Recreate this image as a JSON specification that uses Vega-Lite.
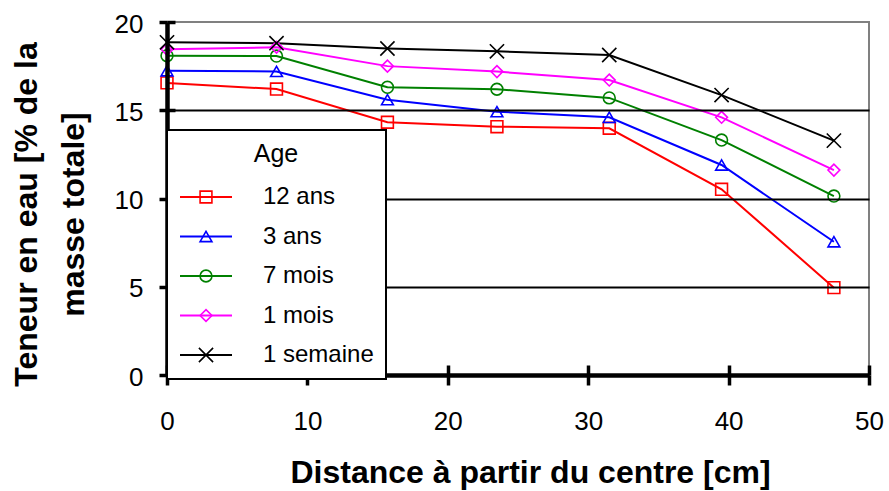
{
  "$schema": "https://vega.github.io/schema/vega-lite/v6.json",
  "width": 702,
  "height": 353,
  "autosize": {"type": "none"},
  "padding": {"left": 167, "top": 22, "right": 20, "bottom": 116},
  "background": "white",
  "config": {
    "view": {"stroke": "#808080", "strokeWidth": 2},
    "font": "Liberation Sans",
    "axis": {"labelFont": "Liberation Sans", "titleFont": "Liberation Sans", "labelColor": "black", "titleColor": "black", "domainColor": "black", "tickColor": "black"},
    "legend": {"labelFont": "Liberation Sans", "titleFont": "Liberation Sans", "strokeWidth": 2, "labelColor": "black", "titleColor": "black"}
  },
  "data": {"values": [
    {"age": "12 ans", "distance": 0, "teneur": 16.55},
    {"age": "12 ans", "distance": 7.8, "teneur": 16.2},
    {"age": "12 ans", "distance": 15.7, "teneur": 14.32},
    {"age": "12 ans", "distance": 23.5, "teneur": 14.07},
    {"age": "12 ans", "distance": 31.5, "teneur": 13.98},
    {"age": "12 ans", "distance": 39.5, "teneur": 10.52},
    {"age": "12 ans", "distance": 47.5, "teneur": 4.95},
    {"age": "3 ans", "distance": 0, "teneur": 17.24},
    {"age": "3 ans", "distance": 7.8, "teneur": 17.2},
    {"age": "3 ans", "distance": 15.7, "teneur": 15.6},
    {"age": "3 ans", "distance": 23.5, "teneur": 14.92},
    {"age": "3 ans", "distance": 31.5, "teneur": 14.6},
    {"age": "3 ans", "distance": 39.5, "teneur": 11.9},
    {"age": "3 ans", "distance": 47.5, "teneur": 7.55},
    {"age": "7 mois", "distance": 0, "teneur": 18.09},
    {"age": "7 mois", "distance": 7.8, "teneur": 18.07},
    {"age": "7 mois", "distance": 15.7, "teneur": 16.3},
    {"age": "7 mois", "distance": 23.5, "teneur": 16.19},
    {"age": "7 mois", "distance": 31.5, "teneur": 15.7},
    {"age": "7 mois", "distance": 39.5, "teneur": 13.31},
    {"age": "7 mois", "distance": 47.5, "teneur": 10.14},
    {"age": "1 mois", "distance": 0, "teneur": 18.45},
    {"age": "1 mois", "distance": 7.8, "teneur": 18.57},
    {"age": "1 mois", "distance": 15.7, "teneur": 17.5},
    {"age": "1 mois", "distance": 23.5, "teneur": 17.19},
    {"age": "1 mois", "distance": 31.5, "teneur": 16.71},
    {"age": "1 mois", "distance": 39.5, "teneur": 14.6},
    {"age": "1 mois", "distance": 47.5, "teneur": 11.61},
    {"age": "1 semaine", "distance": 0, "teneur": 18.85},
    {"age": "1 semaine", "distance": 7.8, "teneur": 18.8},
    {"age": "1 semaine", "distance": 15.7, "teneur": 18.5},
    {"age": "1 semaine", "distance": 23.5, "teneur": 18.34},
    {"age": "1 semaine", "distance": 31.5, "teneur": 18.13},
    {"age": "1 semaine", "distance": 39.5, "teneur": 15.86},
    {"age": "1 semaine", "distance": 47.5, "teneur": 13.28}
  ]},
  "resolve": {
    "axis": {"x": "independent", "y": "independent"},
    "legend": {"color": "independent", "shape": "independent"}
  },
  "layer": [
    {
      "mark": {"type": "line", "strokeWidth": 2},
      "encoding": {
        "x": {
          "field": "distance", "type": "quantitative",
          "scale": {"domain": [0, 50], "nice": false},
          "axis": {
            "orient": "bottom",
            "values": [0, 10, 20, 30, 40, 50],
            "title": "Distance à partir du centre [cm]",
            "titleFontSize": 32, "titleFontWeight": "bold",
            "titleX": 363, "titleY": 107, "titleAlign": "center", "titleBaseline": "alphabetic",
            "labelFontSize": 26, "labelPadding": 23, "labelFlush": false,
            "tickSize": 10, "tickWidth": 3.5, "domainWidth": 4.5,
            "grid": false, "zindex": 1
          }
        },
        "y": {
          "field": "teneur", "type": "quantitative",
          "scale": {"domain": [0, 20], "nice": false},
          "axis": {
            "orient": "left",
            "values": [0, 5, 10, 15, 20],
            "title": ["Teneur en eau [% de la", "masse totale]"],
            "titleFontSize": 32, "titleFontWeight": "bold",
            "titleAngle": 270, "titleX": -156, "titleY": 192,
            "titleAlign": "center", "titleBaseline": "top", "titleLineHeight": 47,
            "labelFontSize": 26, "labelPadding": 16, "labelFlush": false, "labelOffset": 2,
            "tickSize": 8, "tickWidth": 3.5, "domainWidth": 4.5,
            "grid": true, "gridWidth": 2,
            "gridColor": {"condition": {"test": "datum.value >= 20 || datum.value <= 0", "value": "transparent"}, "value": "black"},
            "zindex": 1
          }
        },
        "color": {
          "field": "age", "type": "nominal",
          "scale": {"domain": ["12 ans", "3 ans", "7 mois", "1 mois", "1 semaine"], "range": ["#FF0000", "#0000FF", "#008000", "#FF00FF", "#000000"]},
          "legend": {
            "orient": "none", "legendX": 0, "legendY": 108,
            "title": "Age", "titleFontSize": 25, "titleFontWeight": "normal", "titleAnchor": "middle", "titlePadding": 18,
            "labelFontSize": 24, "labelOffset": 30,
            "symbolType": "stroke", "symbolSize": 2704, "symbolStrokeWidth": 2,
            "clipHeight": 24,
            "rowPadding": 15.5, "padding": 12,
            "fillColor": "white", "strokeColor": "black", "zindex": 1
          }
        }
      }
    },
    {
      "mark": {"type": "point", "filled": false, "size": 140, "strokeWidth": 1.6, "opacity": 1},
      "encoding": {
        "x": {
          "field": "distance", "type": "quantitative",
          "axis": {"orient": "bottom", "values": [0, 10, 20, 30, 40, 50], "title": null, "labels": false, "domain": false, "grid": false, "tickSize": -10, "tickWidth": 3.5, "zindex": 1}
        },
        "y": {
          "field": "teneur", "type": "quantitative",
          "axis": {"orient": "left", "values": [0, 5, 10, 15, 20], "title": null, "labels": false, "domain": false, "grid": false, "tickSize": -8, "tickWidth": 3.5, "zindex": 1}
        },
        "color": {
          "field": "age", "type": "nominal",
          "legend": {
            "orient": "none", "legendX": 0, "legendY": 108,
            "title": "Age", "titleFontSize": 25, "titleFontWeight": "normal", "titleAnchor": "middle", "titlePadding": 18, "titleColor": "transparent",
            "labelFontSize": 24, "labelOffset": 70, "labelColor": "transparent",
            "symbolSize": 140, "symbolStrokeWidth": 1.6, "symbolOffset": 15,
            "clipHeight": 24,
            "rowPadding": 15.5, "padding": 12, "zindex": 2
          }
        },
        "shape": {
          "field": "age", "type": "nominal",
          "scale": {"domain": ["12 ans", "3 ans", "7 mois", "1 mois", "1 semaine"], "range": ["square", "triangle-up", "circle", "diamond", "M-1.2,-1.2L1.2,1.2M-1.2,1.2L1.2,-1.2"]},
          "legend": {
            "orient": "none", "legendX": 0, "legendY": 108,
            "title": "Age", "titleFontSize": 25, "titleFontWeight": "normal", "titleAnchor": "middle", "titlePadding": 18, "titleColor": "transparent",
            "labelFontSize": 24, "labelOffset": 70, "labelColor": "transparent",
            "symbolSize": 140, "symbolStrokeWidth": 1.6, "symbolOffset": 15,
            "clipHeight": 24,
            "rowPadding": 15.5, "padding": 12, "zindex": 2
          }
        }
      }
    }
  ]
}
